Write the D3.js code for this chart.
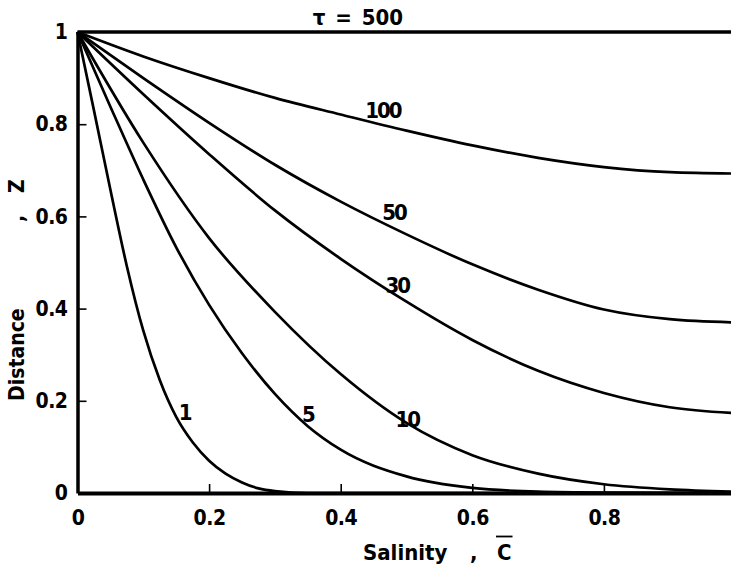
<!DOCTYPE html>
<html>
<head>
<meta charset="utf-8">
<script src="https://cdn.jsdelivr.net/npm/d3@7"></script>
<style>
  body { margin: 0; background: #fff; }
  svg { display: block; }
  text { font-family: "DejaVu Sans Condensed", "DejaVu Sans", sans-serif; font-stretch: condensed; font-weight: bold; fill: #000; }
</style>
</head>
<body>
<div id="app"></div>
<script>
// salinity (C) vs distance (Z) for each dimensionless time tau
const tauLevels = [500, 100, 50, 30, 10, 5, 1];

const curve500 = [[0, 1], [1, 1]];
const curve100 = [[0, 1], [0.1, 0.947], [0.2, 0.9], [0.3, 0.857], [0.4, 0.821], [0.5, 0.786], [0.6, 0.754], [0.7, 0.727], [0.8, 0.707], [0.9, 0.696], [1, 0.693]];
const curve50 = [[0, 1], [0.1, 0.9], [0.2, 0.803], [0.3, 0.712], [0.4, 0.632], [0.5, 0.561], [0.6, 0.496], [0.7, 0.441], [0.8, 0.398], [0.9, 0.377], [1, 0.37]];
const curve30 = [[0, 1], [0.1, 0.865], [0.2, 0.735], [0.3, 0.613], [0.4, 0.508], [0.5, 0.415], [0.6, 0.332], [0.7, 0.265], [0.8, 0.217], [0.9, 0.186], [1, 0.173]];
const curve10 = [[0, 1], [0.1, 0.76], [0.2, 0.553], [0.3, 0.393], [0.4, 0.258], [0.5, 0.152], [0.6, 0.082], [0.7, 0.042], [0.8, 0.019], [0.9, 0.008], [1, 0.003]];
const curve5 = [[0, 1], [0.05, 0.838], [0.1, 0.68], [0.15, 0.533], [0.2, 0.408], [0.25, 0.303], [0.3, 0.215], [0.35, 0.145], [0.4, 0.094], [0.5, 0.036], [0.6, 0.011], [0.7, 0.003], [0.8, 0.001], [1, 0]];
const curve1 = [[0, 1], [0.025, 0.83], [0.05, 0.658], [0.075, 0.492], [0.1, 0.352], [0.125, 0.245], [0.15, 0.165], [0.175, 0.11], [0.2, 0.07], [0.225, 0.042], [0.25, 0.023], [0.275, 0.01], [0.3, 0.004], [0.35, 0], [1, 0]];

const curves = [curve500, curve100, curve50, curve30, curve10, curve5, curve1];

const xTicks = [0, 0.2, 0.4, 0.6, 0.8];
const yTicks = [0, 0.2, 0.4, 0.6, 0.8, 1];

// label text and where it sits (salinity, distance)
const curveLabels = ['\u03C4 = 500', '100', '50', '30', '10', '5', '1'];
const labelAnchors = [[0.426, 1.015], [0.464, 0.813], [0.481, 0.592], [0.486, 0.434], [0.501, 0.143], [0.35, 0.154], [0.163, 0.158]];

const width = 731;
const height = 570;
const margin = { top: 32, right: -4.5, bottom: 77, left: 77.5 };

const svg = d3.select('#app')
  .append('svg')
  .attr('width', width)
  .attr('height', height);

svg.append('rect').attr('width', width).attr('height', height).attr('fill', '#fff');

const x = d3.scaleLinear().domain([0, 1]).range([margin.left, width - margin.right]);
const y = d3.scaleLinear().domain([0, 1]).range([height - margin.bottom, margin.top]);

// axes
const xAxis = svg.append('g')
  .attr('transform', `translate(0, ${y(0)})`)
  .call(d3.axisBottom(x).tickValues(xTicks).tickSize(-9).tickSizeOuter(0).tickPadding(17).tickFormat(d => String(d)));

const yAxis = svg.append('g')
  .attr('transform', `translate(${x(0)}, 0)`)
  .call(d3.axisLeft(y).tickValues(yTicks).tickSize(-9).tickSizeOuter(0).tickPadding(10).tickFormat(d => String(d)));

xAxis.select('.domain').attr('stroke', '#000').attr('stroke-width', 4);
yAxis.select('.domain').attr('stroke', '#000').attr('stroke-width', 3.5);

[xAxis, yAxis].forEach(g => {
  g.selectAll('.tick line').attr('stroke', '#000').attr('stroke-width', 1.6)
    .attr('display', d => (d === 0 || d === 1) ? 'none' : null);
  g.selectAll('.tick text')
    .style('font-family', '"DejaVu Sans Condensed", "DejaVu Sans", sans-serif')
    .style('font-stretch', 'condensed')
    .style('font-weight', 'bold')
    .attr('font-size', 21)
    .attr('letter-spacing', -0.5)
    .attr('fill', '#000');
});

// curves
const line = d3.line()
  .x(d => x(d[0]))
  .y(d => y(d[1]))
  .curve(d3.curveMonotoneX);

svg.append('g')
  .selectAll('path')
  .data(curves)
  .join('path')
  .attr('d', line)
  .attr('fill', 'none')
  .attr('stroke', '#000')
  .attr('stroke-width', (d, i) => i === 0 ? 3.4 : 2.7)
  .attr('stroke-linejoin', 'round');

// curve labels
svg.append('g')
  .selectAll('text')
  .data(curveLabels)
  .join('text')
  .attr('x', (d, i) => x(labelAnchors[i][0]))
  .attr('y', (d, i) => y(labelAnchors[i][1]))
  .attr('text-anchor', 'middle')
  .attr('font-size', (d, i) => i === 0 ? 22 : 22)
  .attr('letter-spacing', (d, i) => i === 0 ? 0 : -2)
  .attr('word-spacing', 3)
  .text(d => d);

// x axis title: Salinity , C-bar
const xTitle = svg.append('g');
xTitle.append('text').attr('x', 363).attr('y', 560).attr('font-size', 22).text('Salinity');
xTitle.append('text').attr('x', 470).attr('y', 560).attr('font-size', 22).text(',');
const cBar = xTitle.append('text').attr('x', 497).attr('y', 560).attr('font-size', 22).text('C');
const cb = cBar.node().getBBox();
xTitle.append('line')
  .attr('x1', cb.x - 1).attr('x2', cb.x + cb.width + 1)
  .attr('y1', 536.5).attr('y2', 536.5)
  .attr('stroke', '#000').attr('stroke-width', 1.8);

// y axis title: Distance , Z
const yTitle = svg.append('g').attr('transform', 'translate(24, 0) rotate(-90)');
yTitle.append('text').attr('x', -401).attr('y', 0).attr('font-size', 21).text('Distance');
yTitle.append('text').attr('x', -222).attr('y', 0).attr('font-size', 21).text(',');
yTitle.append('text').attr('x', -193).attr('y', 0).attr('font-size', 21).text('Z');
</script>
</body>
</html>
